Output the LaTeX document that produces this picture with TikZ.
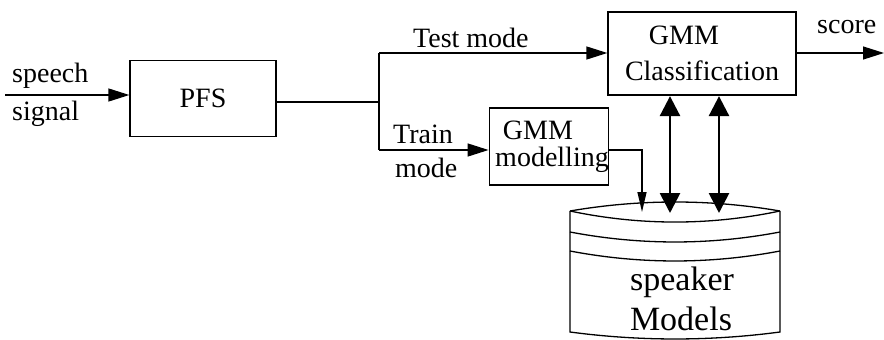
\documentclass[tikz,border=0pt]{standalone}
\usepackage{fontspec}
\setmainfont{Liberation Serif}
\usetikzlibrary{arrows.meta}
\begin{document}
\begin{tikzpicture}[x=1pt,y=-1pt,
  every node/.style={font=\fontsize{28}{33}\selectfont, inner sep=0pt},
  line/.style={line width=1.3pt},
  block/.style={draw, line width=1.3pt, align=center},
  lbl/.style={anchor=base west},
  tip/.style={-{Triangle[length=21pt,width=13pt]}},
  thintip/.style={-{Triangle[length=20pt,width=9pt]}},
  both/.style={line width=2.8pt,{Triangle[length=20pt,width=20pt]}-{Triangle[length=20pt,width=20pt]}, shorten <=0.5pt}
]
\useasboundingbox (0,0) rectangle (884,340);

% processing blocks
\node[block, minimum width=146pt, minimum height=76pt] (pfs) at (203,98.5) {PFS};
\node[block, minimum width=188pt, minimum height=83pt] (cls) at (702,53.5)
  {GMM\hspace*{36pt}\\[3pt]Classification};
\node[block, minimum width=118pt, minimum height=77pt] (mod) at (549,146.5)
  {GMM\hspace*{22pt}\\[-6pt]\hspace*{6pt}modelling};

% connection points
\coordinate (in) at (5,95);
\coordinate (jm) at (379,102);
\coordinate (jt) at (379,53);
\coordinate (jb) at (379,150);
\coordinate (scoreend) at (884,53);
\coordinate (dbA) at (642,212);
\coordinate (dbB) at (670,213);
\coordinate (dbC) at (719,213);

% signal path
\draw[line, tip] (in) -- (in -| pfs.west);
\draw[line] (pfs.east |- jm) -- (jm);
\draw[line] (jt) -- (jb);
\draw[line, tip] (jt) -- (jt -| cls.west);
\draw[line, tip] (jb) -- (jb -| mod.west);
\draw[line, tip] (cls.east |- jt) -- (scoreend);
\draw[line, thintip] (mod.east |- jb) -| (dbA);
\draw[both] (dbB |- cls.south) -- (dbB);
\draw[both] (dbC |- cls.south) -- (dbC);

% speaker model database
\draw[line] (570,211) .. controls (640,199) and (710,199) .. (780,211);
\draw[line] (570,211) .. controls (640,225.7) and (710,225.7) .. (780,211);
\draw[line] (570,232) .. controls (640,245.3) and (710,245.3) .. (780,232);
\draw[line] (570,251) .. controls (640,264.3) and (710,264.3) .. (780,251);
\draw[line] (570,211) -- (570,332) .. controls (640,341.3) and (710,341.3) .. (780,332) -- (780,211);
\node[anchor=base, font=\fontsize{34}{40}\selectfont] (spk) at (682,290) {speaker};
\node[anchor=base, font=\fontsize{34}{40}\selectfont] (mdl) at (681,330) {Models};

% labels
\node[lbl] (l1) at (12,82) {speech};
\node[lbl] (l2) at (12,120) {signal};
\node[lbl] (l3) at (413,47) {Test mode};
\node[lbl] (l4) at (817,33) {score};
\node[lbl] (l5) at (393,143) {Train};
\node[lbl] (l6) at (395,177) {mode};
\end{tikzpicture}
\end{document}
